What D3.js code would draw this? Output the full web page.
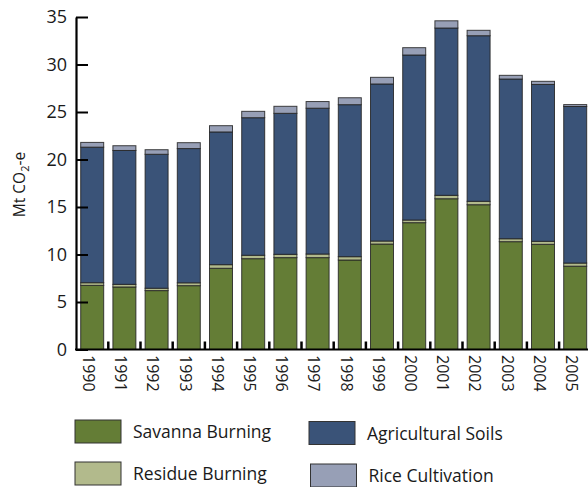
<!DOCTYPE html>
<html>
<head>
<meta charset="utf-8">
<script src="https://cdn.jsdelivr.net/npm/d3@7/dist/d3.min.js"></script>
<style>
  html, body { margin: 0; padding: 0; background: #fff; }
  svg { display: block; }
  text { font-family: "Open Sans", "Noto Sans", sans-serif; fill: #1a1a1a; }
</style>
</head>
<body>
<svg id="chart" width="588" height="487"></svg>
<script>
// Agricultural emissions by source, Mt CO2-e
const years = ["1990","1991","1992","1993","1994","1995","1996","1997",
               "1998","1999","2000","2001","2002","2003","2004","2005"];
const savannaBurning   = [6.75, 6.58, 6.20, 6.72, 8.55, 9.56, 9.67, 9.67,
                          9.42, 11.10, 13.35, 15.87, 15.24, 11.35, 11.07, 8.77];
const residueBurning   = [0.28, 0.28, 0.25, 0.30, 0.38, 0.36, 0.35, 0.38,
                          0.35, 0.32, 0.28, 0.36, 0.36, 0.31, 0.32, 0.33];
const agriculturalSoils = [14.27, 14.09, 14.10, 14.13, 13.97, 14.48, 14.84, 15.35,
                          16.00, 16.53, 17.37, 17.61, 17.43, 16.81, 16.51, 16.48];
const riceCultivation  = [0.50, 0.50, 0.48, 0.62, 0.66, 0.67, 0.74, 0.70,
                          0.73, 0.70, 0.77, 0.76, 0.57, 0.39, 0.33, 0.20];
const yTicks = [0, 5, 10, 15, 20, 25, 30, 35];

const seriesNames = ["Savanna Burning", "Residue Burning", "Agricultural Soils", "Rice Cultivation"];
const seriesColors = ["#647d36", "#b2ba8c", "#3a5378", "#979fb6"];

const rows = years.map((y, i) => ({
  year: y,
  "Savanna Burning": savannaBurning[i],
  "Residue Burning": residueBurning[i],
  "Agricultural Soils": agriculturalSoils[i],
  "Rice Cultivation": riceCultivation[i]
}));

const svg = d3.select("#chart");
const axisX = 76, axisBottom = 349.5;

const x = d3.scaleBand()
  .domain(years)
  .range([axisX, 591.4])
  .paddingInner(0.286)
  .paddingOuter(0.146);

const y = d3.scaleLinear().domain([0, 35]).range([axisBottom, 17]);

const color = d3.scaleOrdinal().domain(seriesNames).range(seriesColors);

const stacked = d3.stack().keys(seriesNames)(rows);

// stacked bars
svg.append("g")
  .selectAll("g")
  .data(stacked)
  .join("g")
    .attr("fill", d => color(d.key))
  .selectAll("rect")
  .data(d => d)
  .join("rect")
    .attr("x", d => x(d.data.year))
    .attr("width", x.bandwidth())
    .attr("y", d => y(d[1]))
    .attr("height", d => y(d[0]) - y(d[1]))
    .attr("stroke", "#222")
    .attr("stroke-opacity", 0.85)
    .attr("stroke-width", 1);

// y axis with inward ticks
const yAxis = d3.axisLeft(y)
  .tickValues(yTicks)
  .tickSizeInner(-12)
  .tickSizeOuter(0)
  .tickPadding(9);

const gy = svg.append("g")
  .attr("transform", `translate(${axisX},0)`)
  .call(yAxis);
gy.select(".domain").attr("stroke", "#000").attr("stroke-width", 2.2);
gy.selectAll(".tick line").attr("stroke", "#000").attr("stroke-width", 2);
gy.selectAll(".tick text")
  .style("font-family", "'Open Sans', sans-serif")
  .style("font-size", "18px")
  .attr("fill", "#1a1a1a");

// x axis baseline
svg.append("line")
  .attr("x1", axisX - 1).attr("x2", 588)
  .attr("y1", axisBottom).attr("y2", axisBottom)
  .attr("stroke", "#000").attr("stroke-width", 2);

// separator ticks between bars
const gap = x.step() - x.bandwidth();
svg.append("g")
  .selectAll("line")
  .data(years.slice(0, -1))
  .join("line")
    .attr("x1", d => x(d) + x.bandwidth() + gap / 2)
    .attr("x2", d => x(d) + x.bandwidth() + gap / 2)
    .attr("y1", axisBottom)
    .attr("y2", axisBottom - 8)
    .attr("stroke", "#000")
    .attr("stroke-width", 2.5);

// year labels, rotated
svg.append("g")
  .selectAll("text")
  .data(years)
  .join("text")
    .attr("transform", d => `translate(${x(d) + x.bandwidth() / 2 - 3.5},355) rotate(90)`)
    .attr("dy", "0.35em")
    .attr("text-anchor", "start")
    .style("font-size", "16px")
    .text(d => d);

// y axis title
const title = svg.append("text")
  .attr("transform", "translate(25,184.5) rotate(-90)")
  .attr("text-anchor", "middle")
  .style("font-size", "15.5px");
title.append("tspan").text("Mt CO");
title.append("tspan").attr("dy", 4).style("font-size", "11px").text("2");
title.append("tspan").attr("dy", -4).text("-e");

// legend
const legendItems = [
  { name: "Savanna Burning", x: 75, y: 420 },
  { name: "Agricultural Soils", x: 309, y: 421.5 },
  { name: "Residue Burning", x: 75, y: 462 },
  { name: "Rice Cultivation", x: 310.5, y: 464 }
];
const lg = svg.append("g")
  .selectAll("g")
  .data(legendItems)
  .join("g")
    .attr("transform", d => `translate(${d.x},${d.y})`);
lg.append("rect")
  .attr("width", 46).attr("height", 23)
  .attr("fill", d => color(d.name))
  .attr("stroke", "#333").attr("stroke-width", 1);
lg.append("text")
  .attr("x", 58).attr("y", 18)
  .style("font-size", "17.5px")
  .text(d => d.name);
</script>
</body>
</html>
